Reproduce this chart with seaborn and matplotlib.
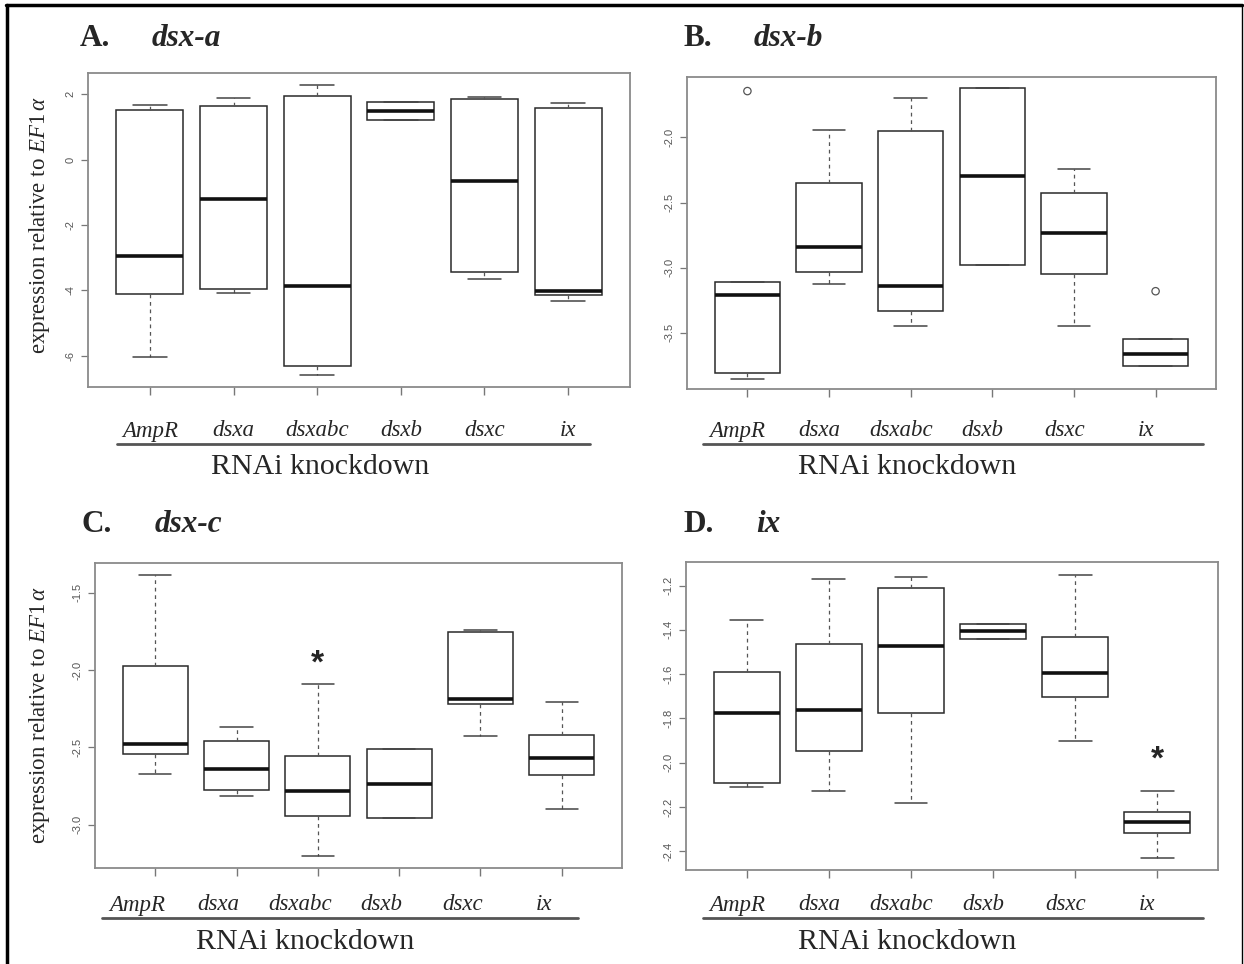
import numpy as np
import pandas as pd
import matplotlib
matplotlib.use("Agg")
import matplotlib.pyplot as plt
import matplotlib.ticker as mticker
from matplotlib.lines import Line2D
import seaborn as sns

# ---------------- data (five-number summaries) -------------
groups = ["AmpR", "dsxa", "dsxabc", "dsxb", "dsxc", "ix"]

# each entry: [min, Q1, median, Q3, max]
dsx_a_values = [
    [-6.04, -4.12, -2.94, 1.53, 1.68],
    [-4.08, -3.96, -1.22, 1.65, 1.89],
    [-6.60, -6.31, -3.86, 1.96, 2.27],
    [1.22, 1.22, 1.48, 1.77, 1.77],
    [-3.65, -3.43, -0.67, 1.85, 1.91],
    [-4.32, -4.15, -4.01, 1.57, 1.73],
]
dsx_b_values = [
    [-3.85, -3.81, -3.21, -3.11, -3.11],
    [-3.125, -3.03, -2.84, -2.35, -1.94],
    [-3.45, -3.33, -3.14, -1.95, -1.70],
    [-2.98, -2.98, -2.30, -1.62, -1.62],
    [-3.45, -3.05, -2.73, -2.43, -2.245],
    [-3.75, -3.75, -3.665, -3.55, -3.55],
]
dsx_b_outlier_groups = ["AmpR", "ix"]
dsx_b_outlier_values = [-1.645, -3.18]

dsx_c_values = [
    [-2.674, -2.545, -2.476, -1.974, -1.384],
    [-2.815, -2.775, -2.639, -2.461, -2.369],
    [-3.204, -2.946, -2.783, -2.556, -2.090],
    [-2.959, -2.959, -2.736, -2.511, -2.511],
    [-2.429, -2.221, -2.187, -1.755, -1.738],
    [-2.899, -2.682, -2.569, -2.421, -2.208],
]
ix_values = [
    [-2.110, -2.090, -1.774, -1.589, -1.355],
    [-2.128, -1.949, -1.763, -1.464, -1.171],
    [-2.182, -1.774, -1.473, -1.209, -1.161],
    [-1.439, -1.439, -1.403, -1.371, -1.371],
    [-1.900, -1.705, -1.596, -1.431, -1.150],
    [-2.433, -2.320, -2.266, -2.222, -2.129],
]

panel_letters = ["A.", "B.", "C.", "D."]
panel_genes = ["dsx-a", "dsx-b", "dsx-c", "ix"]
y_limits = [(-6.96, 2.65), (-3.93, -1.537), (-3.281, -1.307), (-2.485, -1.093)]
y_steps = [2, 0.5, 0.5, 0.2]
y_formats = ["%d", "%.1f", "%.1f", "%.1f"]
star_groups = [None, None, "dsxabc", "ix"]
star_values = [None, None, -1.96, -1.99]
y_title = r"expression relative to $\mathit{EF1\,\alpha}$"
x_title = "RNAi knockdown"

# ---------------- style ---------------------------------------------------------
sns.set_style("white")
plt.rcParams["font.family"] = ["Liberation Sans", "DejaVu Sans"]
plt.rcParams["mathtext.fontset"] = "custom"
plt.rcParams["mathtext.rm"] = "Liberation Serif"
plt.rcParams["mathtext.it"] = "Liberation Serif:italic"

W, H = 1244, 964
fig = plt.figure(figsize=(W / 100, H / 100), dpi=100)
fig.patch.set_facecolor("white")


def fx(px):
    return px / W


def fy(py):
    return 1 - py / H


# axes boxes in pixels: left, top, right, bottom
ax_px = [(88, 73, 630, 387), (687, 77, 1216, 389), (95, 563, 622, 868), (686, 562, 1218, 870)]
title_px = [((80, 38), (152, 38)), ((684, 38), (754, 38)), ((82, 525), (155, 525)), ((684, 525), (756, 525))]
label_y_px = [431, 431, 905, 905]
rule_px = [(117, 590, 444), (703, 1203, 444), (102, 578, 918), (703, 1203, 918)]
xt_px = [(320, 467), (907, 467), (305, 942), (907, 942)]
label_shift = [0.0, -0.12, -0.22, -0.12]

all_values = [dsx_a_values, dsx_b_values, dsx_c_values, ix_values]
spine_col = "#8a8a8a"

for i in range(4):
    l, t, r, b = ax_px[i]
    ax = fig.add_axes([fx(l), fy(b), fx(r) - fx(l), (b - t) / H])
    rows = []
    for g, vals in zip(groups, all_values[i]):
        for v in vals:
            rows.append({"group": g, "value": v})
    df = pd.DataFrame(rows)
    sns.boxplot(
        data=df, x="group", y="value", order=groups, ax=ax,
        whis=(0, 100), width=0.8, color="white", linecolor="#2a2a2a",
        linewidth=1.1, fill=True, saturation=1,
        medianprops=dict(color="#111111", linewidth=2.6),
        whiskerprops=dict(linestyle=(0, (3, 3)), color="#555555", linewidth=0.9),
        capprops=dict(color="#444444", linewidth=1.1),
        boxprops=dict(facecolor="white"),
    )
    if i == 1:
        odf = pd.DataFrame({"group": dsx_b_outlier_groups, "value": dsx_b_outlier_values})
        odf["pos"] = [groups.index(g) for g in odf["group"]]
        sns.scatterplot(data=odf, x="pos", y="value", ax=ax, marker="o", s=28,
                        facecolor="none", edgecolor="#555555", linewidth=0.9, zorder=5)
    if star_groups[i] is not None:
        ax.text(groups.index(star_groups[i]), star_values[i], "*", ha="center", va="center",
                fontsize=24, fontweight="bold", family="Liberation Sans")

    ax.set_xlim(-0.74, 5.74)
    ax.set_ylim(*y_limits[i])
    ax.yaxis.set_major_locator(mticker.MultipleLocator(y_steps[i]))
    ax.yaxis.set_major_formatter(mticker.FormatStrFormatter(y_formats[i]))
    ax.set_xlabel("")
    ax.set_ylabel("")
    ax.set_xticks(range(len(groups)))
    ax.tick_params(axis="x", bottom=True, length=6, width=1, color="#777777", labelbottom=False)
    ax.tick_params(axis="y", left=True, length=5, width=0.9, color="#777777",
                   labelsize=8, labelcolor="#555555", labelrotation=90, pad=4)
    for lab in ax.get_yticklabels():
        lab.set_va("center")
    for s in ax.spines.values():
        s.set_visible(True)
        s.set_color(spine_col)
        s.set_linewidth(1.3)

    # panel titles
    (lx, ly), (gx, gy) = title_px[i]
    fig.text(fx(lx), fy(ly), panel_letters[i], ha="left", va="center", fontsize=22.5,
             fontweight="bold", family="Liberation Serif")
    fig.text(fx(gx), fy(gy), panel_genes[i], ha="left", va="center", fontsize=22.5,
             fontweight="bold", style="italic", family="Liberation Serif")

    # italic group labels beneath the axis
    ly_ax = (b - label_y_px[i]) / (b - t)
    for k, g in enumerate(groups):
        ax.text(k + label_shift[i], ly_ax, g, transform=ax.get_xaxis_transform(),
                ha="center", va="center", fontsize=16.5, style="italic",
                family="Liberation Serif", clip_on=False)
    x0, x1, ry = rule_px[i]
    fig.add_artist(Line2D([fx(x0), fx(x1)], [fy(ry), fy(ry)], color="#555555", linewidth=2.0))
    tx, ty = xt_px[i]
    fig.text(fx(tx), fy(ty), x_title, ha="center", va="center", fontsize=21.5,
             family="Liberation Serif")

# y axis titles for left panels
fig.text(fx(40), fy(225), y_title, rotation=90, ha="center", va="center", fontsize=16.5,
         family="Liberation Serif")
fig.text(fx(40), fy(715), y_title, rotation=90, ha="center", va="center", fontsize=16.5,
         family="Liberation Serif")

# outer frame (top, left, right)
fig.add_artist(Line2D([fx(6), fx(1242)], [fy(5), fy(5)], color="black", linewidth=2.5))
fig.add_artist(Line2D([fx(6.5), fx(6.5)], [fy(5), 0], color="black", linewidth=2.5))
fig.add_artist(Line2D([fx(1241.5), fx(1241.5)], [fy(5), 0], color="black", linewidth=1.0))

fig.savefig("out.png", dpi=100, facecolor="white")
